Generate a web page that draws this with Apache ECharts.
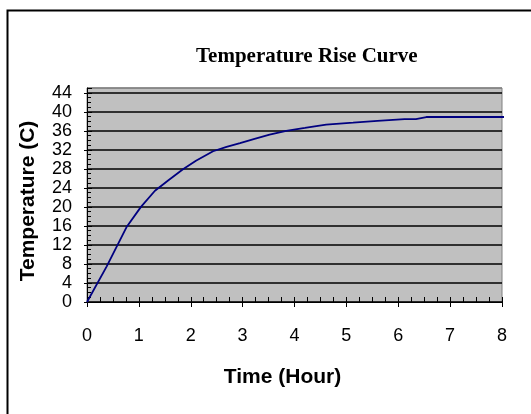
<!DOCTYPE html>
<html>
<head>
<meta charset="utf-8">
<script src="https://cdn.jsdelivr.net/npm/echarts@6/dist/echarts.min.js"></script>
<style>
html,body{margin:0;padding:0;background:#fff;}
#chart{width:531px;height:414px;}
</style>
</head>
<body>
<div id="chart"></div>
<script>
var timeHours = [0, 0.38, 0.76, 1.04, 1.31, 1.57, 1.85, 2.1, 2.43, 2.69, 2.95, 3.23, 3.52, 3.84, 4.2, 4.61, 5.13, 5.6, 6.12, 6.34, 6.54, 7.1, 8.05];
var temperatureC = [0, 7.5, 15.7, 20, 23.4, 25.6, 27.9, 29.7, 31.7, 32.6, 33.4, 34.3, 35.2, 36, 36.6, 37.3, 37.7, 38.1, 38.45, 38.45, 38.9, 38.9, 38.9];
var titleText = 'Temperature Rise Curve';
var xName = 'Time (Hour)';
var yName = 'Temperature (C)';

var points = timeHours.map(function (t, i) { return [t, temperatureC[i]]; });

var chart = echarts.init(document.getElementById('chart'), null, {renderer: 'canvas'});
var sans = 'Liberation Sans, Arial, sans-serif';
var yLabelFmt = function (v) { return (v % 4 === 0) ? String(v) : ''; };
var splitColors = [];
for (var i = 0; i < 12; i++) splitColors.push('#000');
splitColors.push('#808080');

chart.setOption({
  animation: false,
  backgroundColor: '#ffffff',
  graphic: [{
    type: 'rect', left: 5, top: 8,
    shape: {width: 540, height: 420},
    style: {fill: 'none', stroke: '#000', lineWidth: 2}
  }],
  title: {
    text: titleText, left: 191, top: 41,
    textStyle: {fontFamily: 'Liberation Serif, Times New Roman, serif', fontWeight: 'bold', fontSize: 21, color: '#000'}
  },
  grid: {
    left: 87, right: 29, top: 88, bottom: 112,
    show: true, backgroundColor: '#c0c0c0', borderColor: '#808080', borderWidth: 1
  },
  xAxis: [{
    type: 'value', min: 0, max: 8, interval: 1,
    name: xName, nameLocation: 'middle', nameGap: 65,
    nameTextStyle: {fontFamily: sans, fontWeight: 'bold', fontSize: 21, color: '#000', padding: [0, 24, 0, 0]},
    axisLine: {show: true, onZero: false, lineStyle: {color: '#000', width: 1}},
    axisTick: {show: true, inside: false, length: 5, lineStyle: {color: '#000'}},
    axisLabel: {fontFamily: sans, fontSize: 18, color: '#000', margin: 25},
    splitLine: {show: false}
  }, {
    type: 'value', min: 0, max: 8, interval: 1, position: 'bottom',
    axisLine: {show: false, onZero: false},
    axisTick: {show: true, inside: true, length: 5, lineStyle: {color: '#000'}},
    minorTick: {show: true, splitNumber: 4, length: 5, lineStyle: {color: '#000'}},
    axisLabel: {show: false},
    splitLine: {show: false}
  }],
  yAxis: [{
    type: 'value', min: 0, max: 45, interval: 4,
    name: yName, nameLocation: 'middle', nameGap: 48, nameRotate: 90,
    nameTextStyle: {fontFamily: sans, fontWeight: 'bold', fontSize: 21, color: '#000', padding: [0, 12, 0, 0]},
    axisLine: {show: true, onZero: false, lineStyle: {color: '#000', width: 1}},
    axisTick: {show: true, inside: false, length: 3, lineStyle: {color: '#000'}},
    axisLabel: {fontFamily: sans, fontSize: 18, color: '#000', margin: 15, showMaxLabel: false, formatter: yLabelFmt},
    splitLine: {show: true, lineStyle: {color: splitColors, width: 1.6}}
  }, {
    type: 'value', min: 0, max: 45, interval: 4, position: 'left',
    axisLine: {show: false, onZero: false},
    axisTick: {show: true, inside: true, length: 5, lineStyle: {color: '#000'}},
    minorTick: {show: true, splitNumber: 4, length: 4, lineStyle: {color: '#000'}},
    axisLabel: {show: false},
    splitLine: {show: false}
  }],
  series: [{
    type: 'line',
    xAxisIndex: 0, yAxisIndex: 0,
    data: points,
    showSymbol: false, symbol: 'none',
    clip: false,
    lineStyle: {color: '#000080', width: 1.8}
  }]
});
</script>
</body>
</html>
